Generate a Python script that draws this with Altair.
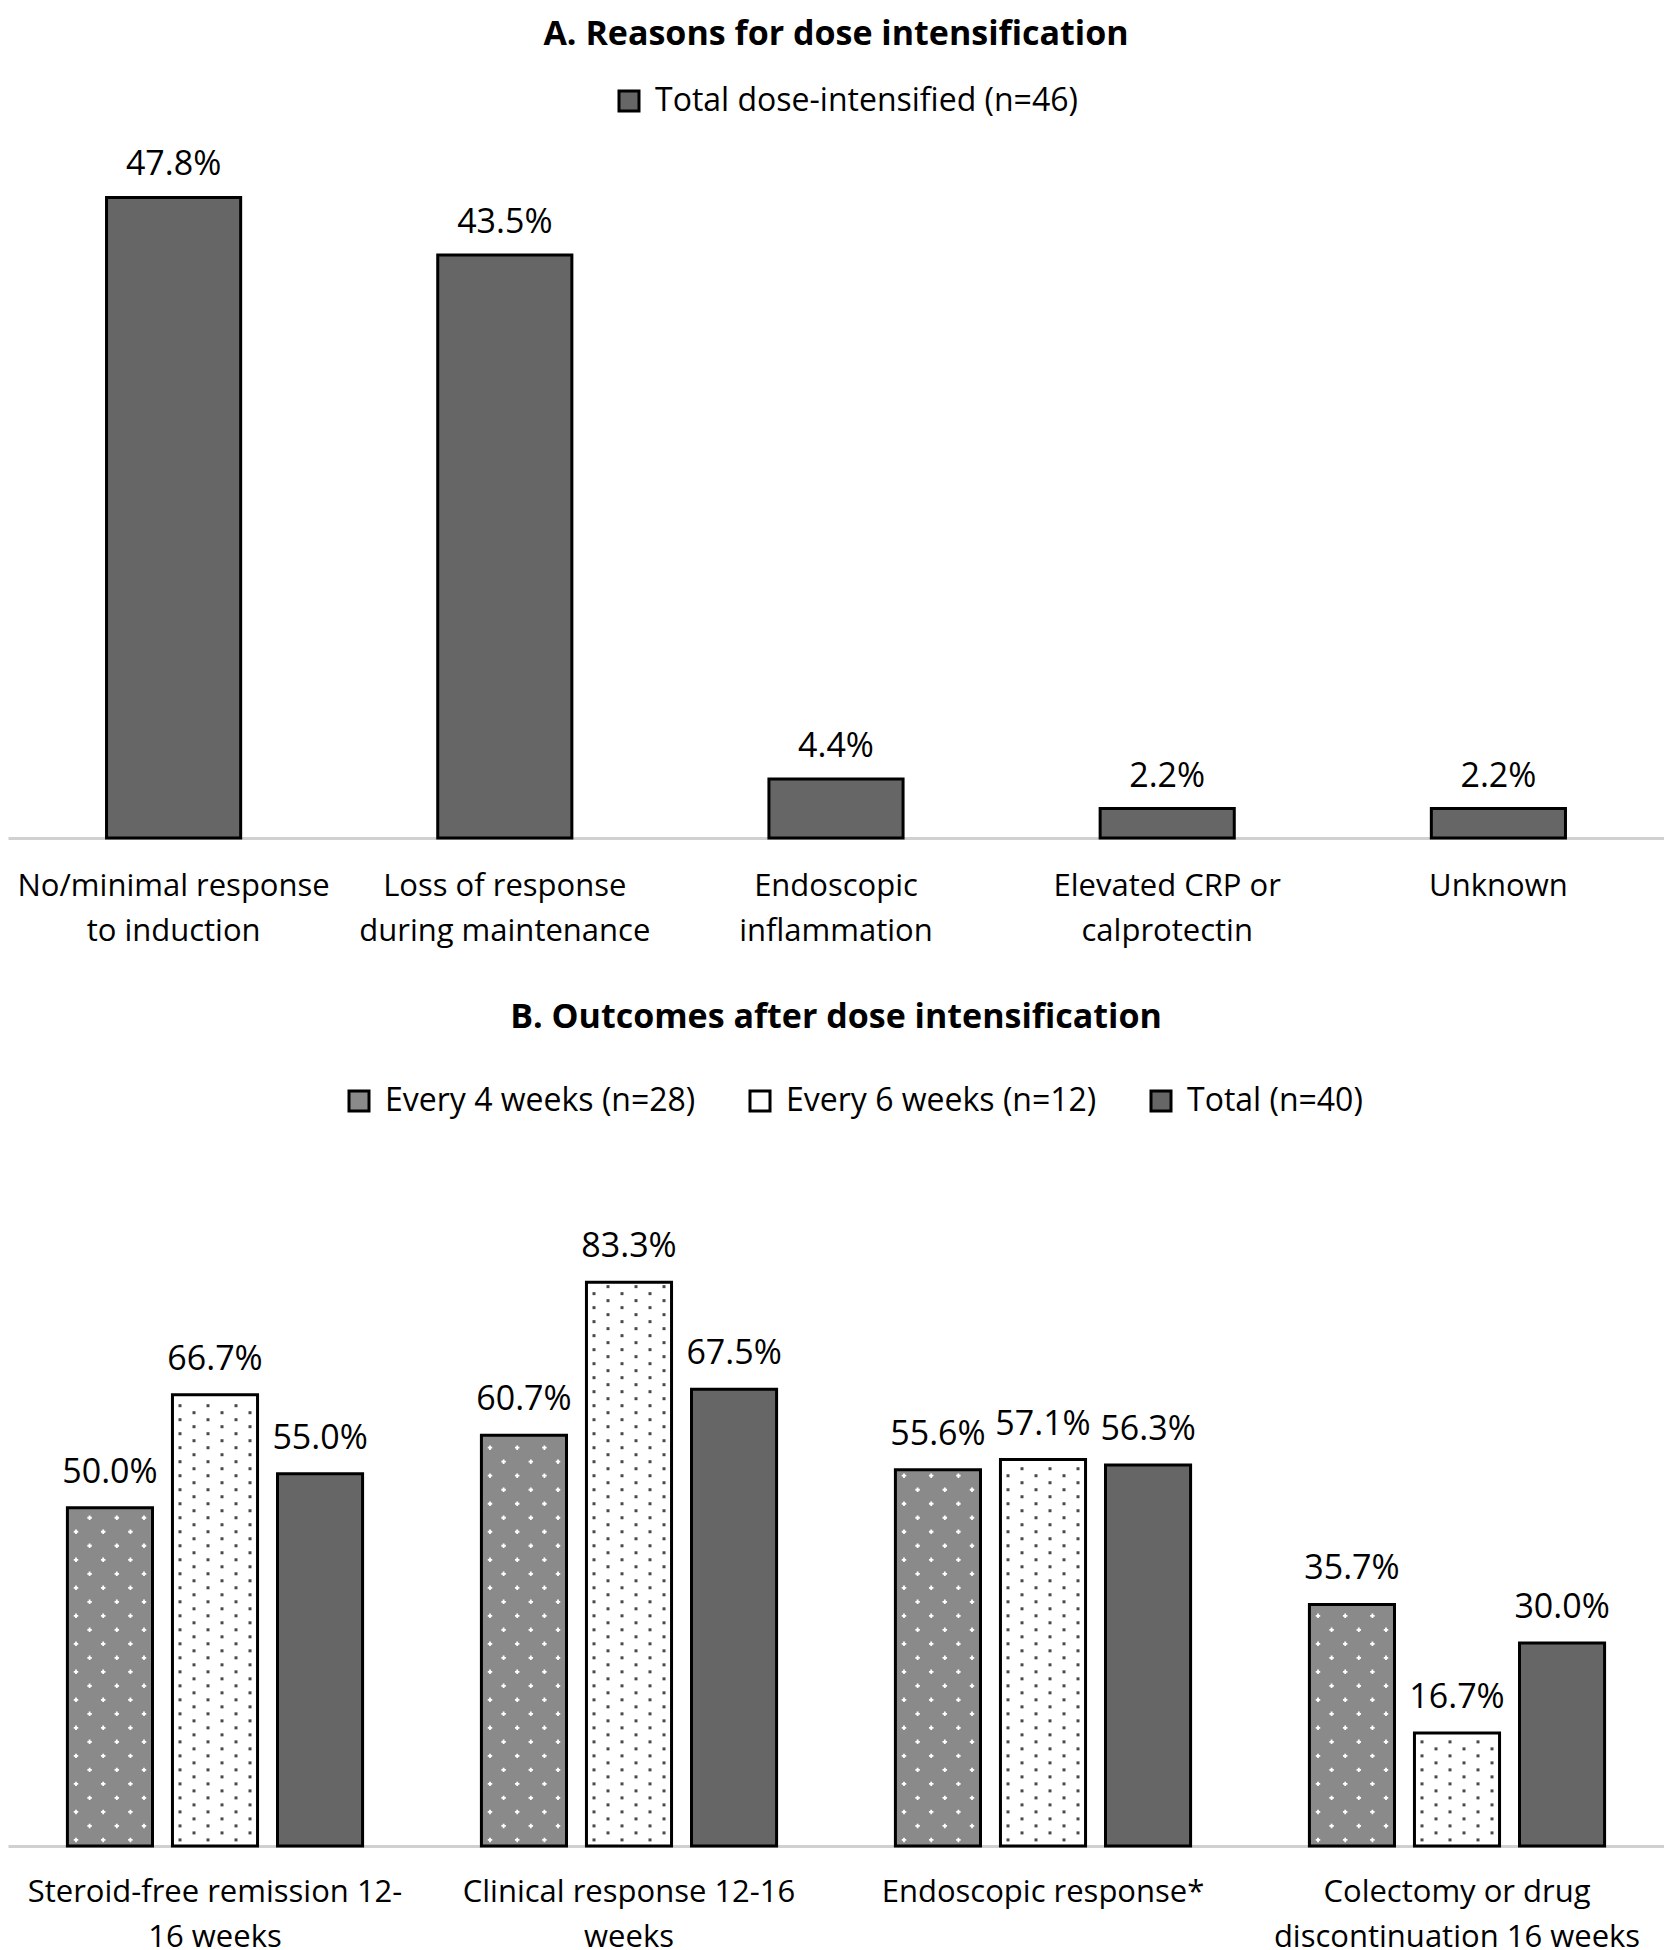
import altair as alt
import pandas as pd

FONT = "Open Sans"

# ---------------- Panel A data ----------------
title_a = "A. Reasons for dose intensification"
reasons = [
    "No/minimal response|to induction",
    "Loss of response|during maintenance",
    "Endoscopic|inflammation",
    "Elevated CRP or|calprotectin",
    "Unknown",
]
reasons_pct = [47.8, 43.5, 4.4, 2.2, 2.2]
series_a = "Total dose-intensified (n=46)"

# ---------------- Panel B data ----------------
title_b = "B. Outcomes after dose intensification"
outcomes = [
    "Steroid-free remission 12-|16 weeks",
    "Clinical response 12-16|weeks",
    "Endoscopic response*",
    "Colectomy or drug|discontinuation 16 weeks",
]
groups = ["Every 4 weeks (n=28)", "Every 6 weeks (n=12)", "Total (n=40)"]
every4 = [50.0, 60.7, 55.6, 35.7]
every6 = [66.7, 83.3, 57.1, 16.7]
total = [55.0, 67.5, 56.3, 30.0]

W = 1656
HA = 670
HB = 609
A_MAX = 50
B_MAX = 90

dfA = pd.DataFrame({"reason": reasons, "pct": reasons_pct, "series": series_a})
rows = []
for g, vals in zip(groups, [every4, every6, total]):
    for o, v in zip(outcomes, vals):
        rows.append({"outcome": o, "group": g, "pct": v})
dfB = pd.DataFrame(rows)


def axis_x(pad):
    return alt.Axis(
        title=None, labelExpr="split(datum.value, '|')", labelAngle=0,
        ticks=False, domainColor="#d0d0d0", domainWidth=3,
        labelFontSize=31, labelFont=FONT, labelColor="black",
        labelPadding=pad, labelLineHeight=45, labelBaseline="top",
        labelLimit=0, labelOverlap=False,
    )


def legend(x, y):
    return alt.Legend(
        title=None, orient="none", legendX=x, legendY=y, direction="horizontal",
        symbolType="square", symbolSize=400, symbolStrokeColor="black",
        symbolStrokeWidth=3, symbolOpacity=1, labelFontSize=32, labelFont=FONT,
        labelColor="black", labelOffset=10, columnPadding=48, labelLimit=600,
    )


# ---------------- Panel A ----------------
xA = alt.X("reason:N", sort=reasons,
           scale=alt.Scale(paddingInner=0.595, paddingOuter=0.2975), axis=axis_x(33))
yA = alt.Y("pct:Q", scale=alt.Scale(domain=[0, A_MAX], nice=False), axis=None)

barsA = alt.Chart(dfA).mark_bar(stroke="black", strokeWidth=3, opacity=1).encode(
    x=xA, y=yA,
    fill=alt.Fill("series:N", scale=alt.Scale(domain=[series_a], range=["#666666"]),
                  legend=legend(605, -83)),
)
labelsA = alt.Chart(dfA).transform_calculate(
    label="format(datum.pct, '.1f') + '%'"
).mark_text(font=FONT, fontSize=34, color="black", baseline="alphabetic", dy=-22).encode(
    x=xA, y=yA, text="label:N"
)
titleA = alt.Chart(pd.DataFrame({"t": [title_a]})).mark_text(
    font=FONT, fontSize=34, fontWeight="bold", color="black", baseline="middle"
).encode(text="t:N", x=alt.value(W / 2), y=alt.value(-133))

panelA = alt.layer(barsA, labelsA, titleA).properties(width=W, height=HA)

# ---------------- Panel B ----------------
xB = alt.X("outcome:N", sort=outcomes,
           scale=alt.Scale(paddingInner=0.287, paddingOuter=0.1435), axis=axis_x(31))
xoB = alt.XOffset("group:N", sort=groups, scale=alt.Scale(domain=groups, paddingInner=0.19))
yBscale = alt.Scale(domain=[0, B_MAX], nice=False)
yB = alt.Y("pct:Q", scale=yBscale, axis=None)

barsB = alt.Chart(dfB).mark_bar(stroke="black", strokeWidth=3, opacity=1).encode(
    x=xB, xOffset=xoB, y=yB,
    fill=alt.Fill("group:N", scale=alt.Scale(domain=groups, range=["#8a8a8a", "#ffffff", "#666666"]),
                  legend=legend(335, -152)),
)
labelsB = alt.Chart(dfB).transform_calculate(
    label="format(datum.pct, '.1f') + '%'"
).mark_text(font=FONT, fontSize=34, color="black", baseline="alphabetic", dy=-25).encode(
    x=xB, xOffset=xoB, y=yB, text="label:N"
)
titleB = alt.Chart(pd.DataFrame({"t": [title_b]})).mark_text(
    font=FONT, fontSize=34, fontWeight="bold", color="black", baseline="middle"
).encode(text="t:N", x=alt.value(W / 2), y=alt.value(-219))

# texture dots (pattern fills), derived from each bar's value
STEP_PX = 105  # spacing between grouped bars (style)


def dot_layers(group, base_off, col_offs, step, color, size, shape="square"):
    out = []
    for j, off in enumerate(col_offs):
        start = 0.9 + (j % 2) * step / 2
        out.append(
            alt.Chart(dfB)
            .transform_filter(alt.datum.group == group)
            .transform_calculate(dot=f"sequence({start}, datum.pct - 0.6, {step})")
            .transform_flatten(["dot"])
            .mark_point(shape=shape, size=size, filled=True, color=color, opacity=1,
                        xOffset=base_off + off)
            .encode(x=xB, y=alt.Y("dot:Q", scale=yBscale, axis=None))
        )
    return out


dots6 = dot_layers(groups[1], 0, [-35, -21, -7, 7, 21, 35], 2.07, "#4a4a4a", 9)
dots4 = dot_layers(groups[0], -STEP_PX, [-34, -20.4, -6.8, 6.8, 20.4, 34], 4.14, "#ffffff", 20, "cross")

panelB = alt.layer(barsB, *dots4, *dots6, labelsB, titleB).properties(width=W, height=HB)

chart = (
    alt.vconcat(panelA, panelB, spacing=55)
    .resolve_scale(x="independent", y="independent", fill="independent")
    .resolve_legend(fill="independent")
    .properties(padding={"left": 0, "top": 10, "right": 0, "bottom": 0})
    .configure_view(stroke=None)
)

chart.save("out.html", embed_options={"renderer": "svg", "actions": False})
